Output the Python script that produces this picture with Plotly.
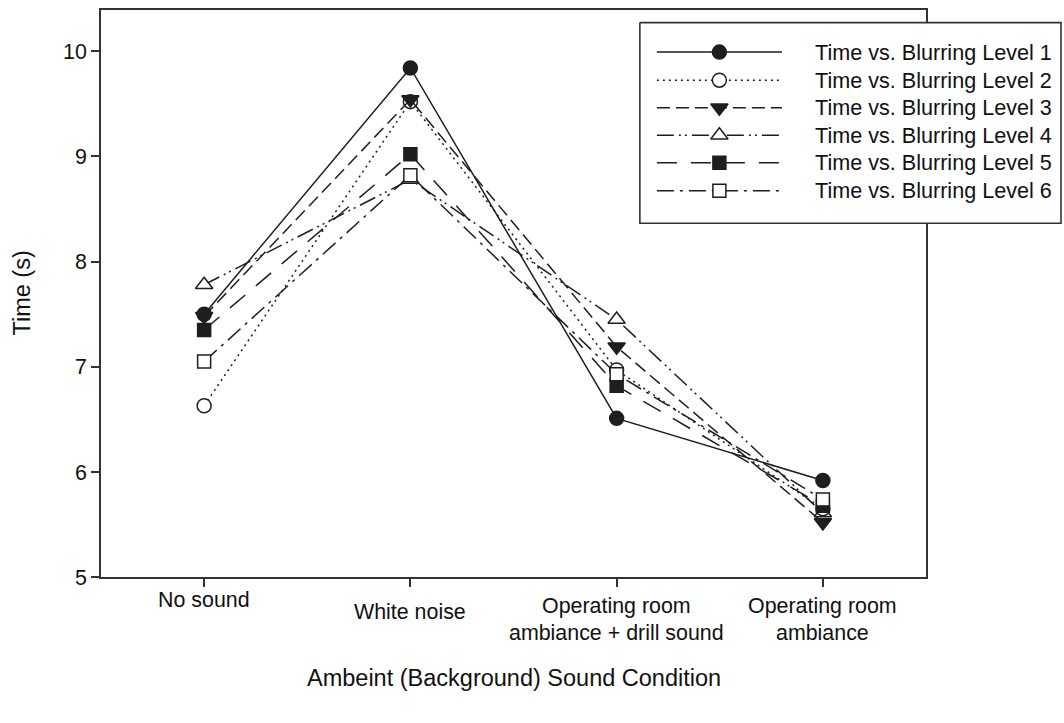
import plotly.graph_objects as go

# Sound conditions on the x axis (each label split into its printed lines)
conditions = ["No sound", "White noise", "Operating room ambiance + drill sound", "Operating room ambiance"]
condition_lines = [["No sound"], ["White noise"], ["Operating room", "ambiance + drill sound"], ["Operating room", "ambiance"]]

# Mean completion time (s) per blurring level
level_1 = [7.50, 9.84, 6.51, 5.92]
level_2 = [6.63, 9.52, 6.97, 5.65]
level_3 = [7.48, 9.54, 7.19, 5.52]
level_4 = [7.78, 8.78, 7.45, 5.61]
level_5 = [7.35, 9.02, 6.82, 5.68]
level_6 = [7.05, 8.82, 6.93, 5.74]

series_names = [
    "Time vs. Blurring Level 1",
    "Time vs. Blurring Level 2",
    "Time vs. Blurring Level 3",
    "Time vs. Blurring Level 4",
    "Time vs. Blurring Level 5",
    "Time vs. Blurring Level 6",
]

y_ticks = [5, 6, 7, 8, 9, 10]

INK = "#1e1e1e"
FONT = "Liberation Sans, Arial, sans-serif"
W, H = 1064, 723

# Per-series styling: dash pattern, marker symbol, marker fill
styles = [
    dict(dash="solid", symbol="circle", fill=INK, size=14),
    dict(dash="2px,4px", symbol="circle", fill="white", size=14),
    dict(dash="13px,6px", symbol="triangle-down", fill=INK, size=15),
    dict(dash="17px,5px,2px,4px,2px,5px", symbol="triangle-up", fill="white", size=15),
    dict(dash="20px,14px", symbol="square", fill=INK, size=13),
    dict(dash="17px,6px,3px,6px", symbol="square", fill="white", size=13),
]
values = [level_1, level_2, level_3, level_4, level_5, level_6]

# drawing order so overlapping markers stack correctly
draw_order = [3, 1, 2, 4, 5, 0]

# plot-area geometry (pixels)
PL, PR, PT, PB = 101, 926, 10, 587
xs = list(range(len(conditions)))

fig = go.Figure()
for i in draw_order:
    s = styles[i]
    fig.add_trace(go.Scatter(
        x=xs, y=values[i], mode="lines+markers", name=series_names[i],
        line=dict(color=INK, width=1.5, dash=s["dash"]),
        marker=dict(symbol=s["symbol"], size=s["size"], color=s["fill"],
                    line=dict(color=INK, width=1.5)),
        showlegend=False, xaxis="x", yaxis="y",
    ))

# Legend panel drawn on its own pixel-scaled axes
LX0, LX1, LY0, LY1 = 640, 1061, 23, 227
fig.add_trace(go.Scatter(
    x=[LX0, LX1, LX1, LX0, LX0], y=[LY0, LY0, LY1, LY1, LY0],
    mode="lines", fill="toself", fillcolor="white",
    line=dict(color="#333333", width=1.6), showlegend=False,
    hoverinfo="skip", xaxis="x2", yaxis="y2",
))
row_y = [53, 81.5, 109.5, 137.5, 165.5, 194]
for k in range(6):
    s = styles[k]
    fig.add_trace(go.Scatter(
        x=[657, 719.5, 782], y=[row_y[k]] * 3, mode="lines",
        line=dict(color=INK, width=1.5, dash=s["dash"]),
        showlegend=False, hoverinfo="skip", xaxis="x2", yaxis="y2",
    ))
    fig.add_trace(go.Scatter(
        x=[719.5], y=[row_y[k]], mode="markers",
        marker=dict(symbol=s["symbol"], size=s["size"], color=s["fill"],
                    line=dict(color=INK, width=1.5)),
        showlegend=False, hoverinfo="skip", xaxis="x2", yaxis="y2",
    ))
    fig.add_annotation(
        x=813, y=row_y[k], xref="x2", yref="y2", text=series_names[k],
        showarrow=False, xanchor="left", yanchor="middle",
        font=dict(family=FONT, size=21.6, color="#111111"),
    )

# Category labels under the x axis, one annotation per printed line
first_line_y = [610, 622, 616, 616]
LINE_GAP = 28
for xi, lines, y0 in zip(xs, condition_lines, first_line_y):
    for j, txt in enumerate(lines):
        fig.add_annotation(
            x=xi, y=1 - (y0 + j * LINE_GAP) / H, xref="x", yref="paper", text=txt,
            showarrow=False, xanchor="center", yanchor="middle",
            font=dict(family=FONT, size=21.4, color="#111111"),
        )

# Axis titles
fig.add_annotation(
    x=(PL + PR) / 2 / W, y=1 - 689 / H, xref="paper", yref="paper",
    text="Ambeint (Background) Sound Condition", showarrow=False,
    xanchor="center", yanchor="middle",
    font=dict(family=FONT, size=23.5, color="#111111"),
)
fig.add_annotation(
    x=22 / W, y=1 - (PT + PB) / 2 / H, xref="paper", yref="paper",
    text="Time (s)", showarrow=False, textangle=-90,
    xanchor="center", yanchor="middle",
    font=dict(family=FONT, size=23.5, color="#111111"),
)

fig.update_layout(
    width=W, height=H,
    margin=dict(l=0, r=0, t=0, b=0),
    paper_bgcolor="white", plot_bgcolor="rgba(0,0,0,0)",
    font=dict(family=FONT, size=21, color="#111111"),
    xaxis=dict(
        domain=[PL / W, PR / W], range=[-0.5, 3.5],
        tickvals=xs, showticklabels=False,
        ticks="outside", ticklen=8, tickwidth=1.5, tickcolor="#333333",
        showline=True, linecolor="#333333", linewidth=1.6, mirror=True,
        showgrid=False, zeroline=False, anchor="y",
    ),
    yaxis=dict(
        domain=[1 - PB / H, 1 - PT / H], range=[5, 10 + 42 / 107],
        tickvals=y_ticks, ticktext=[str(t) for t in y_ticks],
        ticks="outside", ticklen=8, tickwidth=1.5, tickcolor="#333333",
        tickfont=dict(family=FONT, size=21.4, color="#111111"),
        showline=True, linecolor="#333333", linewidth=1.6, mirror=True,
        showgrid=False, zeroline=False, anchor="x",
    ),
    xaxis2=dict(
        domain=[LX0 / W - 0.002, (LX1 + 2) / W], range=[LX0 - 2, LX1 + 2],
        visible=False, fixedrange=True, anchor="y2",
    ),
    yaxis2=dict(
        domain=[1 - (LY1 + 2) / H, 1 - (LY0 - 2) / H], range=[LY1 + 2, LY0 - 2],
        visible=False, fixedrange=True, anchor="x2",
    ),
    showlegend=False,
)

fig.write_html("out.html")
